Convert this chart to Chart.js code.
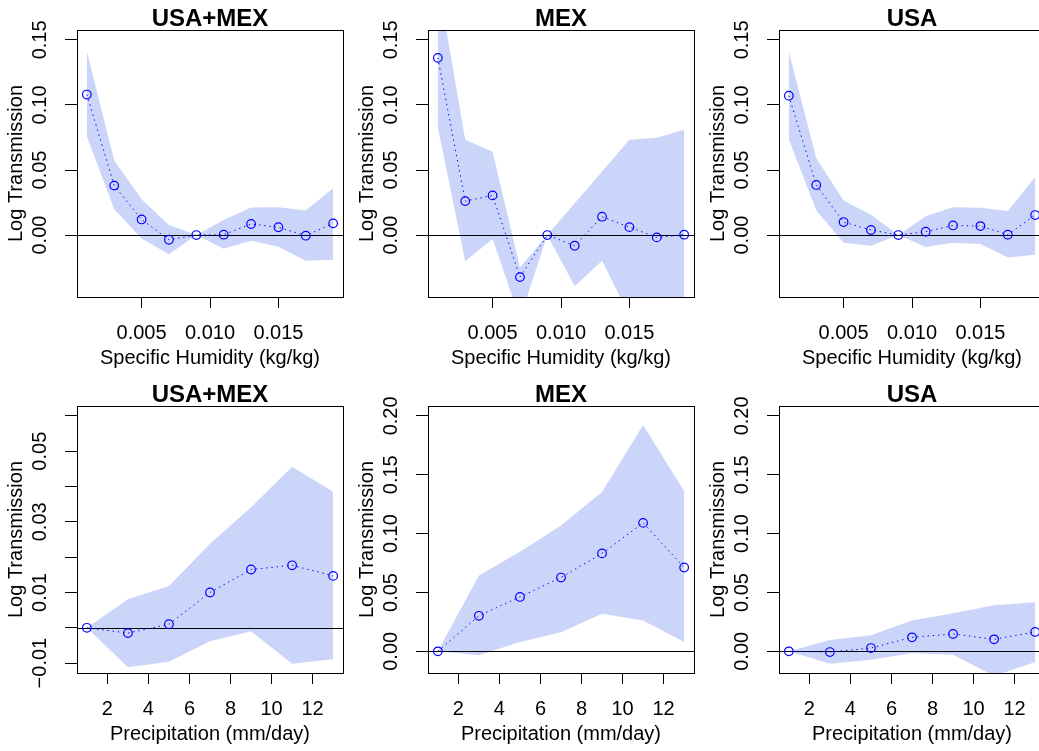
<!DOCTYPE html>
<html><head><meta charset="utf-8">
<script src="https://cdn.jsdelivr.net/npm/chart.js@4/dist/chart.umd.min.js"></script>
<style>
html,body{margin:0;padding:0;background:#fff;overflow:hidden;width:1039px;height:751px;position:relative}
canvas{position:absolute;display:block}
</style></head><body>
<canvas id="c0" width="351" height="375" style="left:0px;top:0px"></canvas>
<canvas id="c1" width="351" height="375" style="left:351px;top:0px"></canvas>
<canvas id="c2" width="351" height="375" style="left:702px;top:0px"></canvas>
<canvas id="c3" width="351" height="375" style="left:0px;top:376px"></canvas>
<canvas id="c4" width="351" height="375" style="left:351px;top:376px"></canvas>
<canvas id="c5" width="351" height="375" style="left:702px;top:376px"></canvas>
<script>
// ---------- data ----------
const humidity = [0.001, 0.003, 0.005, 0.007, 0.009, 0.011, 0.013, 0.015, 0.017, 0.019];
const precipitation = [1, 3, 5, 7, 9, 11, 13];

const humUsaMexEst = [0.108, 0.038, 0.012, -0.0036, 0, 0.0003, 0.0085, 0.006, -0.0005, 0.009];
const humUsaMexHi  = [0.141, 0.0574, 0.0275, 0.0077, 0, 0.0116, 0.0211, 0.0214, 0.0188, 0.036];
const humUsaMexLo  = [0.0759, 0.0198, -0.0026, -0.0147, 0, -0.0105, -0.0044, -0.009, -0.0198, -0.019];

const humMexEst = [0.1362, 0.0261, 0.0305, -0.0323, 0, -0.0082, 0.0141, 0.0061, -0.0018, 0.0003];
const humMexHi  = [0.196, 0.0732, 0.064, -0.025, 0, 0.0244, 0.0488, 0.0732, 0.0747, 0.081];
const humMexLo  = [0.0827, -0.0202, -0.003, -0.064, 0, -0.0394, -0.0197, -0.062, -0.066, -0.07];

const humUsaEst = [0.1071, 0.0385, 0.010, 0.0039, 0, 0.0026, 0.0074, 0.0069, 0.0003, 0.0154];
const humUsaHi  = [0.1408, 0.0593, 0.0265, 0.0157, 0, 0.0144, 0.0213, 0.021, 0.0185, 0.0447];
const humUsaLo  = [0.0735, 0.019, -0.0059, -0.0082, 0, -0.0092, -0.0059, -0.0069, -0.0172, -0.0152];

const preUsaMexEst = [0, -0.0015, 0.001, 0.010, 0.0165, 0.0177, 0.0147];
const preUsaMexHi  = [0, 0.0081, 0.0118, 0.0238, 0.0341, 0.0456, 0.0385];
const preUsaMexLo  = [0, -0.0112, -0.0096, -0.0038, -0.001, -0.0102, -0.0089];

const preMexEst = [0, 0.0302, 0.0462, 0.0627, 0.0832, 0.1091, 0.0712];
const preMexHi  = [0, 0.0644, 0.0846, 0.1068, 0.1353, 0.1923, 0.1359];
const preMexLo  = [0, -0.0034, 0.008, 0.0162, 0.0319, 0.0262, 0.008];

const preUsaEst = [0, -0.0006, 0.0028, 0.0119, 0.0148, 0.0102, 0.0165];
const preUsaHi  = [0, 0.0097, 0.0136, 0.0261, 0.0324, 0.0392, 0.0418];
const preUsaLo  = [0, -0.0105, -0.0071, -0.0017, -0.0028, -0.021, -0.0091];

// axis ranges and ticks
const humidityXRange = [0.001, 0.019];
const precipXRange = [1, 13];
const humidityYRange = [-0.04, 0.15];
const precipUsaMexYRange = [-0.01, 0.06];
const precipYRange = [-0.01, 0.20];

const humidityXTicks = [0.005, 0.010, 0.015];
const humidityXTickLabels = ['0.005', '0.010', '0.015'];
const precipXTicks = [2, 4, 6, 8, 10, 12];
const precipXTickLabels = ['2', '4', '6', '8', '10', '12'];

const humidityYTicks = [0.00, 0.05, 0.10, 0.15];
const humidityYTickLabels = ['0.00', '0.05', '0.10', '0.15'];
const precipUsaMexYTicks = [-0.01, 0.00, 0.01, 0.02, 0.03, 0.04, 0.05, 0.06];
const precipUsaMexYTickLabels = ['\u22120.01', '', '0.01', '', '0.03', '', '0.05', ''];
const precipYTicks = [0.00, 0.05, 0.10, 0.15, 0.20];
const precipYTickLabels = ['0.00', '0.05', '0.10', '0.15', '0.20'];

const titles = ['USA+MEX', 'MEX', 'USA', 'USA+MEX', 'MEX', 'USA'];
const xLabels = ['Specific Humidity (kg/kg)', 'Precipitation (mm/day)'];
const yLabel = 'Log Transmission';

// ---------- drawing ----------
const FONT = "'Liberation Sans', Arial, Helvetica, sans-serif";
const BAND = 'rgb(203,213,250)';
const PT = '#0000ff';

function expand(r) { const d = (r[1] - r[0]) * 0.04; return [r[0] - d, r[1] + d]; }

const measureCtx = document.createElement('canvas').getContext('2d');
measureCtx.font = "20px " + FONT;
function yPad(labels) {
  const w = Math.max(...labels.map(l => measureCtx.measureText(l).width));
  return 77 - 12 - 40.5 - w / 2;
}

const boxPlugin = {
  id: 'boxAndZero',
  beforeDatasetsDraw(chart) {
    const {ctx, chartArea: a, scales} = chart;
    const y0 = Math.round(scales.y.getPixelForValue(0)) + 0.5;
    ctx.save();
    ctx.beginPath();
    ctx.rect(a.left, a.top, a.right - a.left, a.bottom - a.top);
    ctx.clip();
    ctx.strokeStyle = '#000';
    ctx.lineWidth = 1;
    ctx.beginPath();
    ctx.moveTo(a.left, y0);
    ctx.lineTo(a.right, y0);
    ctx.stroke();
    ctx.restore();
  },
  afterDraw(chart) {
    const {ctx, chartArea: a} = chart;
    ctx.save();
    ctx.strokeStyle = '#000';
    ctx.lineWidth = 1;
    ctx.strokeRect(Math.round(a.left) + 0.5, Math.round(a.top) + 0.5,
                   Math.round(a.right) - Math.round(a.left), Math.round(a.bottom) - Math.round(a.top));
    ctx.restore();
  }
};

const panels = [
  {x: humidity, est: humUsaMexEst, hi: humUsaMexHi, lo: humUsaMexLo, xr: humidityXRange, yr: humidityYRange, xt: humidityXTicks, xtl: humidityXTickLabels, yt: humidityYTicks, ytl: humidityYTickLabels, xl: xLabels[0]},
  {x: humidity, est: humMexEst, hi: humMexHi, lo: humMexLo, xr: humidityXRange, yr: humidityYRange, xt: humidityXTicks, xtl: humidityXTickLabels, yt: humidityYTicks, ytl: humidityYTickLabels, xl: xLabels[0]},
  {x: humidity, est: humUsaEst, hi: humUsaHi, lo: humUsaLo, xr: humidityXRange, yr: humidityYRange, xt: humidityXTicks, xtl: humidityXTickLabels, yt: humidityYTicks, ytl: humidityYTickLabels, xl: xLabels[0]},
  {x: precipitation, est: preUsaMexEst, hi: preUsaMexHi, lo: preUsaMexLo, xr: precipXRange, yr: precipUsaMexYRange, xt: precipXTicks, xtl: precipXTickLabels, yt: precipUsaMexYTicks, ytl: precipUsaMexYTickLabels, xl: xLabels[1]},
  {x: precipitation, est: preMexEst, hi: preMexHi, lo: preMexLo, xr: precipXRange, yr: precipYRange, xt: precipXTicks, xtl: precipXTickLabels, yt: precipYTicks, ytl: precipYTickLabels, xl: xLabels[1]},
  {x: precipitation, est: preUsaEst, hi: preUsaHi, lo: preUsaLo, xr: precipXRange, yr: precipYRange, xt: precipXTicks, xtl: precipXTickLabels, yt: precipYTicks, ytl: precipYTickLabels, xl: xLabels[1]},
];

panels.forEach((p, k) => {
  const xr = expand(p.xr), yr = expand(p.yr);
  const pts = arr => p.x.map((x, i) => ({x: x, y: arr[i]}));
  new Chart(document.getElementById('c' + k), {
    type: 'line',
    data: {
      datasets: [
        {data: pts(p.est), borderColor: PT, borderWidth: 1, borderDash: [1.4, 3.8], borderCapStyle: 'butt',
         pointRadius: 4.3, pointBorderWidth: 1.2, pointBorderColor: PT, pointBackgroundColor: 'rgba(0,0,0,0)',
         fill: false, tension: 0, order: 0},
        {data: pts(p.hi), borderWidth: 0, borderColor: 'rgba(0,0,0,0)', pointRadius: 0, fill: '+1', backgroundColor: BAND, tension: 0, order: 1},
        {data: pts(p.lo), borderWidth: 0, borderColor: 'rgba(0,0,0,0)', pointRadius: 0, fill: false, tension: 0, order: 2},
      ]
    },
    options: {
      responsive: false, animation: false, devicePixelRatio: 1, events: [],
      layout: {padding: {left: 0, right: 8, top: 0, bottom: 0}},
      plugins: {
        legend: {display: false}, tooltip: {enabled: false},
        filler: {drawTime: 'beforeDatasetsDraw'},
        title: {display: true, text: titles[k], fullSize: false, color: '#000',
                font: {family: FONT, size: 24, weight: 'bold', lineHeight: 1}, padding: {top: 7, bottom: -1}}
      },
      scales: {
        x: {
          type: 'linear', position: 'bottom', min: xr[0], max: xr[1],
          afterBuildTicks: s => { s.ticks = p.xt.map(v => ({value: v})); },
          afterFit: s => { s.height = 78; },
          ticks: {callback: (v, i) => p.xtl[i], autoSkip: false, maxRotation: 0, minRotation: 0, padding: 15, color: '#000',
                  font: {family: FONT, size: 20, lineHeight: 1}},
          grid: {drawOnChartArea: false, drawTicks: true, tickLength: 11, color: '#000', tickColor: '#000', lineWidth: 1},
          border: {display: false},
          title: {display: true, text: p.xl, color: '#000', font: {family: FONT, size: 20, lineHeight: 1}, padding: {top: 0, bottom: 7}}
        },
        y: {
          type: 'linear', position: 'left', min: yr[0], max: yr[1],
          afterBuildTicks: s => { s.ticks = p.yt.map(v => ({value: v})); },
          afterFit: s => { s.width = 77; },
          ticks: {callback: (v, i) => p.ytl[i], autoSkip: false, minRotation: 90, maxRotation: 90, crossAlign: 'center',
                  padding: yPad(p.ytl), color: '#000', font: {family: FONT, size: 20, lineHeight: 1}},
          grid: {drawOnChartArea: false, drawTicks: true, tickLength: 12, color: '#000', tickColor: '#000', lineWidth: 1},
          border: {display: false},
          title: {display: true, text: yLabel, color: '#000', font: {family: FONT, size: 20, lineHeight: 1}, padding: {top: 6, bottom: 0}}
        }
      }
    },
    plugins: [boxPlugin]
  });
});
</script>
</body></html>
